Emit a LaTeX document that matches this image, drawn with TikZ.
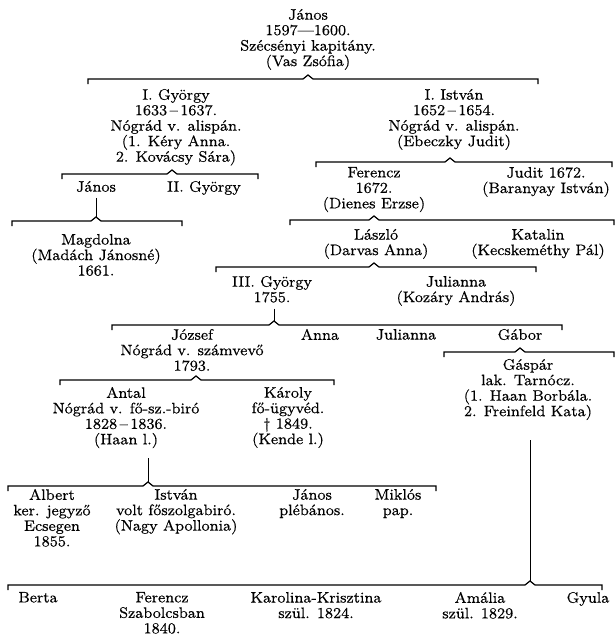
\documentclass[tikz,border=0pt]{standalone}
\usepackage{fontspec}
\usepackage{tikz}
\newfontfamily\printfont{Latin Modern Roman}[Ligatures=TeX, FakeBold=0.35]
\tikzset{
  person/.style={align=center, anchor=north, inner sep=0pt, outer sep=0pt,
    font=\printfont\fontsize{7.6}{7.75}\selectfont},
  bar/.style={line width=0.6pt},
  link/.style={line width=0.5pt, shorten <=3pt},
}
% sibling bar: name of caret, y, left x, right x, caret x
\newcommand{\sibbar}[5]{%
  \coordinate (#1) at (#5,#2-4);
  \draw[bar] (#3,#2+5) -- (#3,#2) -- (#5-5,#2) -- (#1) -- (#5+5,#2) -- (#4,#2) -- (#4,#2+5);
}

\begin{document}
\begin{tikzpicture}[x=0.5pt, y=-0.5pt]
  \useasboundingbox (0,0) rectangle (615,644);

  % First generation
  \node[person] (janos1) at (308,9) {János\\1597—1600.\\Szécsényi kapitány.\\(Vas Zsófia)};
  \sibbar{capA}{79}{88}{538}{308}

  % Sons of János
  \node[person] (gyorgy1) at (176,89) {I. György\\1633\,–\,1637.\\Nógrád v. alispán.\\(1. Kéry Anna.\\2. Kovácsy Sára)};
  \node[person] (istvan1) at (454,89) {I. István\\1652\,–\,1654.\\Nógrád v. alispán.\\(Ebeczky Judit)};
  \sibbar{capC}{174}{62}{258}{172}
  \sibbar{capB}{162}{316}{612}{450}

  % Children of I. György
  \node[person] (janos2) at (96,181) {János};
  \node[person] (gyorgy2) at (204,181) {II. György};
  \sibbar{capD}{221}{12}{182}{96}
  \draw[link] (janos2.south) -- (capD);
  \node[person] (magdolna) at (96,234) {Magdolna\\(Madách Jánosné)\\1661.};

  % Children of I. István
  \node[person] (ferencz1) at (374,167) {Ferencz\\1672.\\(Dienes Erzse)};
  \node[person] (judit) at (546,167) {Judit 1672.\\(Baranyay István)};
  \sibbar{capE}{220}{290}{614}{374}
  \node[person] (laszlo) at (376,229) {László\\(Darvas Anna)};
  \node[person] (katalin) at (538,229) {Katalin\\(Kecskeméthy Pál)};
  \sibbar{capF}{267}{216}{536}{374}
  \node[person] (gyorgy3) at (272,276) {III. György\\1755.};
  \node[person] (julianna1) at (456,276) {Julianna\\(Kozáry András)};

  % Children of III. György
  \sibbar{capG}{325}{112}{562}{274}
  \draw[link] (gyorgy3.south -| capG) -- (capG);
  \node[person] (jozsef) at (192,329) {József\\Nógrád v. számvevő\\1793.};
  \node[person] (anna) at (320,329) {Anna};
  \node[person] (julianna2) at (406,329) {Julianna};
  \node[person] (gabor) at (520,329) {Gábor};

  % Branch of Gábor
  \sibbar{capH}{352}{444}{614}{520}
  \node[person] (gaspar) at (528,359) {Gáspár\\lak. Tarnócz.\\(1. Haan Borbála.\\2. Freinfeld Kata)};

  % Branch of József
  \sibbar{capI}{380}{60}{334}{196}
  \node[person] (antal) at (126,387) {Antal\\Nógrád v. fő-sz.-biró\\1828\,–\,1836.\\(Haan l.)};
  \node[person] (karoly) at (288,387) {Károly\\fő-ügyvéd.\\† 1849.\\(Kende l.)};

  % Children of Antal
  \sibbar{capJ}{486}{8}{436}{148}
  \draw[link, shorten <=5pt] (antal.south -| capJ) -- (capJ);
  \node[person] (albert) at (52,489) {Albert\\ker. jegyző\\Ecsegen\\1855.};
  \node[person] (istvan2) at (176,489) {István\\volt főszolgabiró.\\(Nagy Apollonia)};
  \node[person] (janos3) at (312,489) {János\\plébános.};
  \node[person] (miklos) at (398,489) {Miklós\\pap.};

  % Children of Gáspár
  \sibbar{capK}{585}{8}{602}{530}
  \draw[link, shorten <=10pt] (gaspar.south -| capK) -- (capK);
  \node[person] (berta) at (38,592) {Berta};
  \node[person] (ferencz2) at (162,592) {Ferencz\\Szabolcsban\\1840.};
  \node[person] (karolina) at (316,592) {Karolina-Krisztina\\szül. 1824.};
  \node[person] (amalia) at (480,592) {Amália\\szül. 1829.};
  \node[person] (gyula) at (588,592) {Gyula};
\end{tikzpicture}
\end{document}
